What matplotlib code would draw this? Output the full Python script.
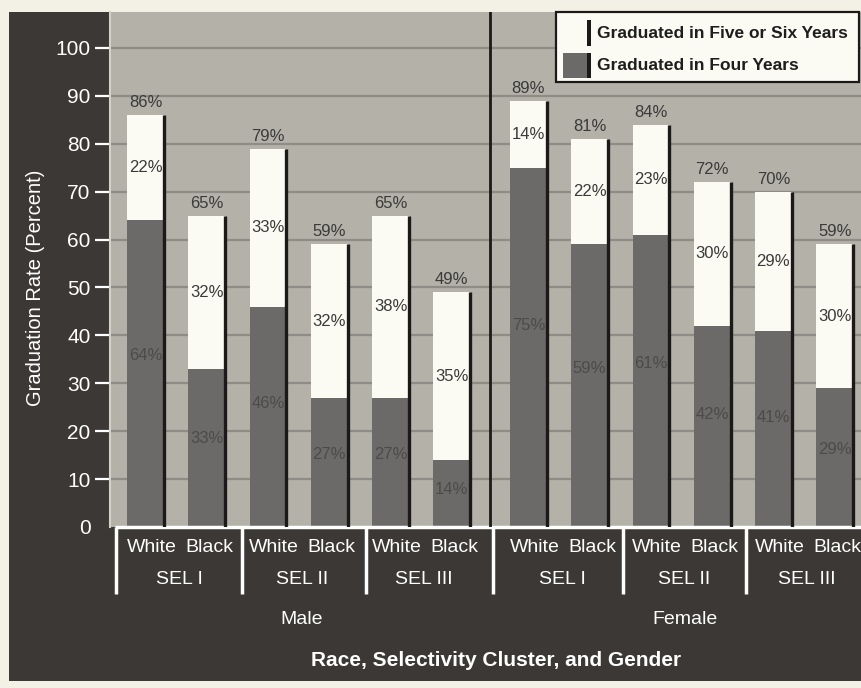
import matplotlib
matplotlib.use("Agg")
import matplotlib.pyplot as plt
from matplotlib.patches import Rectangle
from matplotlib import transforms

# ---- data -------------------------------------------------------------
genders = ["Male", "Female"]
clusters = ["SEL I", "SEL II", "SEL III"]
races = ["White", "Black"]

# per bar, in order: (gender, cluster, race)
four_years = [64, 33, 46, 27, 27, 14, 75, 59, 61, 42, 41, 29]
five_six_years = [22, 32, 33, 32, 38, 35, 14, 22, 23, 30, 29, 30]
totals = [86, 65, 79, 59, 65, 49, 89, 81, 84, 72, 70, 59]

y_ticks = [0, 10, 20, 30, 40, 50, 60, 70, 80, 90, 100]

legend_labels = ["Graduated in Five or Six Years", "Graduated in Four Years"]
y_title = "Graduation Rate (Percent)"
x_title = "Race, Selectivity Cluster, and Gender"

# ---- style ------------------------------------------------------------
PAPER = "#f3f1e5"
PANEL = "#3c3835"
PLOT_BG = "#b3b1a8"
GRID = "#8e8c84"
DARK = "#6c6a68"
LIGHT = "#fcfbf3"
EDGE = "#1c1a19"
LABEL = "#3a3a3a"
INNER = "#4d4b49"

REG = ["Liberation Sans", "DejaVu Sans"]
NARROW = ["Liberation Sans Narrow", "Liberation Sans", "DejaVu Sans"]

W, H = 861, 688
fig = plt.figure(figsize=(W / 100, H / 100), dpi=100, facecolor=PAPER)


def fx(px):
    return px / W


def fy(py):
    return 1 - py / H


# dark backing panel
fig.patches.append(Rectangle((fx(9), fy(681)), 1 - fx(9), fy(12) - fy(681),
                             transform=fig.transFigure, facecolor=PANEL,
                             edgecolor="none", zorder=-5))

ax = fig.add_axes([fx(110), fy(527), 1 - fx(110), fy(12) - fy(527)])
ax.set_zorder(1)
ax.set_facecolor(PLOT_BG)

# bar positions: 6 bars per gender, a wider gap between the genders
pos = [i for i in range(6)] + [6.25 + i for i in range(6)]
bw = 0.6

ax.set_xlim(-0.58, 11.68)
ax.set_ylim(0, 107.5)

for v in y_ticks[1:]:
    ax.axhline(v, color=GRID, lw=1.6, zorder=1)

ax.bar(pos, four_years, width=bw, color=DARK, zorder=2)
ax.bar(pos, five_six_years, width=bw, bottom=four_years, color=LIGHT, zorder=2)
ax.vlines([p + bw / 2 for p in pos], 0, totals, color=EDGE, lw=2.4, zorder=3)

for p, f, s, t in zip(pos, four_years, five_six_years, totals):
    ax.text(p, t + 2.6, f"{t}%", ha="center", va="center", fontsize=12,
            color=LABEL, family=REG, zorder=4)
    ax.text(p, f + s / 2, f"{s}%", ha="center", va="center", fontsize=12,
            color=LABEL, family=REG, zorder=4)
    ax.text(p, f * 0.56, f"{f}%", ha="center", va="center", fontsize=12,
            color=INNER, family=REG, zorder=4)

# divider between the genders
ax.axvline(5.625, color=EDGE, lw=2, zorder=3)

# axes furniture
for side in ["top", "right", "bottom"]:
    ax.spines[side].set_visible(False)
ax.spines["left"].set_color("#d3d1c8")
ax.spines["left"].set_linewidth(1.5)

ax.set_xticks([])
ax.set_yticks(y_ticks)
ax.set_yticklabels([str(v) for v in y_ticks], family=REG, fontsize=15,
                   color="white")
ax.tick_params(axis="y", direction="out", length=11, width=1.6,
               color="white", pad=3)
ax.yaxis.get_major_ticks()[0].tick1line.set_visible(False)

fig.text(fx(36), fy(288), y_title, rotation=90, ha="center", va="center",
         fontsize=14.5, color="white", family=REG)

# category labels below the plot
bt = transforms.blended_transform_factory(ax.transData, fig.transFigure)
ax.plot([-0.5, 11.68], [fy(527), fy(527)], transform=bt, color="white",
        lw=2.5, clip_on=False, solid_capstyle="butt")
race_shift = [0.1, 0.04]
for g in range(2):
    for c in range(3):
        for r in range(2):
            idx = g * 6 + c * 2 + r
            ax.text(pos[idx] + race_shift[r], fy(548), races[r], transform=bt,
                    ha="center", va="center", fontsize=14, color="white",
                    family=REG, clip_on=False)
        mid = (pos[g * 6 + c * 2] + pos[g * 6 + c * 2 + 1]) / 2 + 0.05
        ax.text(mid, fy(579), clusters[c], transform=bt, ha="center",
                va="center", fontsize=14, color="white", family=REG,
                clip_on=False)
    gmid = (pos[g * 6] + pos[g * 6 + 5]) / 2 + 0.05
    ax.text(gmid, fy(619), genders[g], transform=bt, ha="center",
            va="center", fontsize=14, color="white", family=REG,
            clip_on=False)

for sx in [-0.48, 1.58, 3.6, 5.67, 7.8, 9.8]:
    ax.plot([sx, sx], [fy(527), fy(594)], transform=bt, color="white",
            lw=2.5, clip_on=False, solid_capstyle="butt")

ax.text(5.73, fy(660), x_title, transform=bt, ha="center", va="center",
        fontsize=15, fontweight="bold", color="white", family=NARROW,
        clip_on=False)

# legend
fig.patches.append(Rectangle((fx(556), fy(82)), fx(859) - fx(556),
                             fy(12) - fy(82), transform=fig.transFigure,
                             facecolor=LIGHT, edgecolor=EDGE, lw=1.6,
                             zorder=5))
for k, (col, top, bot) in enumerate([(LIGHT, 20, 46), (DARK, 53, 78)]):
    fig.patches.append(Rectangle((fx(563), fy(bot)), fx(587) - fx(563),
                                 fy(top) - fy(bot), transform=fig.transFigure,
                                 facecolor=col, edgecolor="none", zorder=6))
    fig.patches.append(Rectangle((fx(587), fy(bot)), fx(591) - fx(587),
                                 fy(top) - fy(bot), transform=fig.transFigure,
                                 facecolor=EDGE, edgecolor="none", zorder=6))
    fig.text(fx(597), fy((top + bot) / 2), legend_labels[k], ha="left",
             va="center", fontsize=12.5, fontweight="bold", color="#1e1e1e",
             family=NARROW, zorder=7)

fig.savefig("out.png", dpi=100, facecolor=PAPER)
